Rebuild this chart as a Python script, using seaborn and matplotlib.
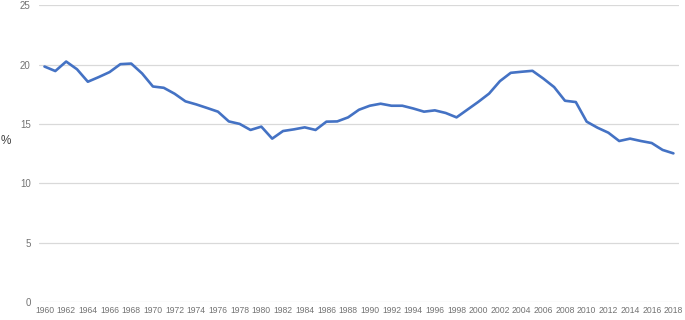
import numpy as np
import pandas as pd
import seaborn as sns
import matplotlib.pyplot as plt

# --- data ---
years = list(range(1960, 2019))
values = [
    19.83, 19.45, 20.25, 19.60, 18.55, 18.94, 19.36, 20.03, 20.08, 19.25,  # 1960-69
    18.15, 18.04, 17.54, 16.90, 16.64, 16.34, 16.03, 15.21, 15.00, 14.49,  # 1970-79
    14.77, 13.76, 14.40, 14.54, 14.71, 14.49, 15.19, 15.21, 15.55, 16.19,  # 1980-89
    16.53, 16.70, 16.53, 16.53, 16.30, 16.03, 16.14, 15.92, 15.55, 16.20,  # 1990-99
    16.85, 17.55, 18.60, 19.30, 19.39, 19.47, 18.82, 18.10, 16.95, 16.84,  # 2000-09
    15.19, 14.68, 14.26, 13.56, 13.76, 13.56, 13.39, 12.81, 12.52,         # 2010-18
]
y_ticks = [0, 5, 10, 15, 20, 25]
x_ticks = years[::2]

df = pd.DataFrame({"year": years, "pct": values})

sns.set_theme(style="white")
plt.rcParams['font.family'] = ['Liberation Sans', 'DejaVu Sans']

fig = plt.figure(figsize=(6.85, 3.2), dpi=100)
ax = fig.add_axes([0.057, 0.056, 0.934, 0.928])

sns.lineplot(data=df, x="year", y="pct", color="#4472C4", linewidth=1.9, ax=ax)

ax.set_xlim(1959.5, 2018.5)
ax.set_ylim(0, 25)
ax.set_yticks(y_ticks)
ax.set_xticks(x_ticks)
ax.set_xticklabels([str(y) for y in x_ticks], fontsize=6.2, color="#737373")
ax.set_yticklabels([str(v) for v in y_ticks], fontsize=7, color="#737373")
ax.tick_params(axis="both", length=0, pad=3)
ax.tick_params(axis="y", pad=6)

ax.yaxis.grid(True, color="#D9D9D9", linewidth=0.9)
ax.set_axisbelow(True)
for s in ax.spines.values():
    s.set_visible(False)

ax.set_xlabel("")
ax.set_ylabel("")
fig.text(0.001, 1 - 141 / 320, "%", fontsize=8.5, color="#404040", ha="left", va="center")

fig.savefig("out.png", dpi=100)
